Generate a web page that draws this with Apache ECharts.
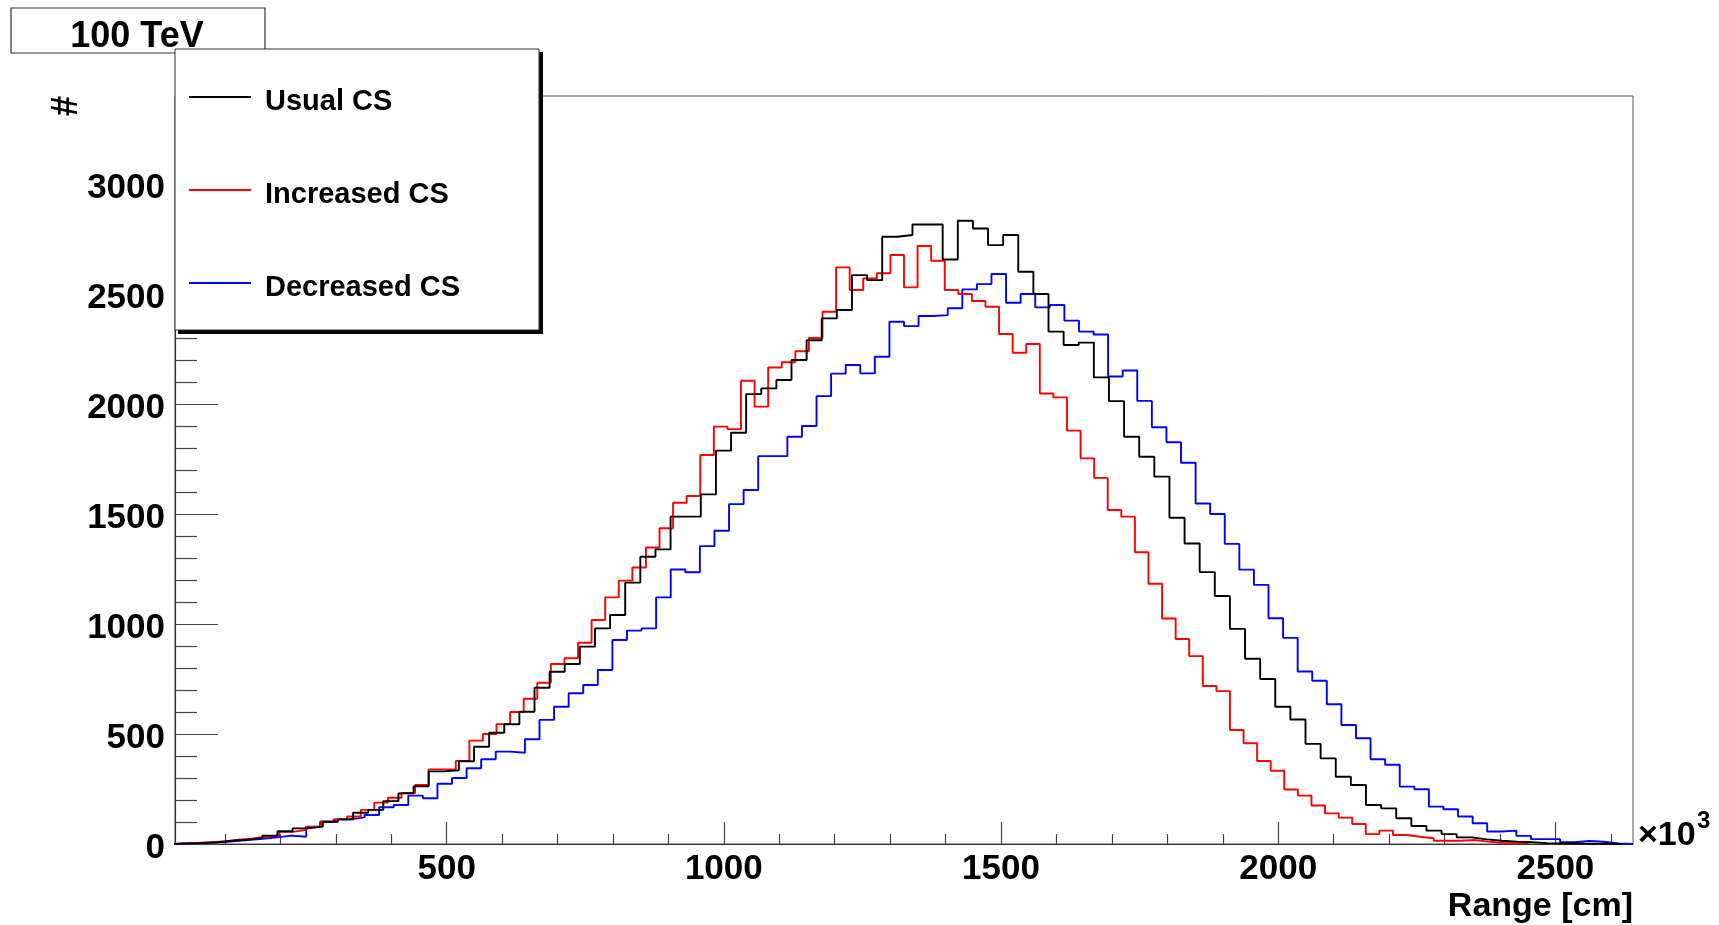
<!DOCTYPE html>
<html>
<head>
<meta charset="utf-8">
<script src="https://cdn.jsdelivr.net/npm/echarts@6/dist/echarts.min.js"></script>
<style>
html,body{margin:0;padding:0;background:#fff;}
#chart{width:1719px;height:925px;}
</style>
</head>
<body>
<div id="chart"></div>
<script>
// Tick labels
const xTicksMajor = [500, 1000, 1500, 2000, 2500];
const xTicksMinor = [100,200,300,400,600,700,800,900,1100,1200,1300,1400,1600,1700,1800,1900,2100,2200,2300,2400,2600];
const yTicksMajor = [0, 500, 1000, 1500, 2000, 2500, 3000];
const yTicksMinor = [100,200,300,400,600,700,800,900,1100,1200,1300,1400,1600,1700,1800,1900,2100,2200,2300,2400,2600,2700,2800,2900,3100,3200,3300];

// Histogram binning (each histogram has its own automatic binning), x in units of 10^3 cm
const usualStart = 4, usualWidth = 27.27;
const increasedStart = 2, increasedWidth = 24.5;
const decreasedStart = 10, decreasedWidth = 26.3;

// Bin contents
const usualCS = [
  3, 5, 8, 15, 20, 28, 38, 58, 71, 79,
  101, 112, 142, 155, 195, 230, 262, 330, 335, 376,
  442, 506, 544, 601, 710, 783, 818, 897, 980, 1041,
  1188, 1306, 1339, 1488, 1488, 1589, 1788, 1869, 2045, 2071,
  2109, 2200, 2290, 2389, 2427, 2586, 2563, 2760, 2768, 2816,
  2816, 2657, 2833, 2798, 2722, 2768, 2601, 2500, 2329, 2268,
  2279, 2121, 2013, 1851, 1760, 1670, 1483, 1366, 1236, 1127,
  978, 842, 750, 624, 566, 455, 389, 306, 268, 177,
  162, 117, 82, 61, 45, 30, 21, 15, 11, 8,
  4, 3, 2, 1, 1, 0
];
const increasedCS = [
  3, 5, 8, 12, 20, 24, 33, 38, 55, 64,
  78, 101, 112, 125, 155, 188, 210, 232, 268, 339,
  340, 378, 470, 500, 545, 600, 660, 733, 818, 844,
  915, 1018, 1121, 1197, 1257, 1348, 1435, 1551, 1582, 1768,
  1897, 1886, 2106, 1988, 2166, 2190, 2240, 2300, 2419, 2621,
  2518, 2571, 2594, 2677, 2530, 2718, 2651, 2518, 2500, 2468,
  2442, 2318, 2233, 2273, 2048, 2030, 1879, 1753, 1664, 1518,
  1488, 1326, 1183, 1025, 932, 854, 718, 695, 518, 458,
  377, 333, 248, 220, 175, 139, 120, 91, 45, 61,
  41, 33, 26, 15, 15, 18, 11, 6, 6, 3
];
const decreasedCS = [
  2, 4, 8, 12, 18, 24, 30, 38, 33, 79,
  101, 112, 121, 132, 167, 177, 220, 208, 274, 300,
  344, 385, 420, 415, 476, 564, 624, 685, 723, 791,
  927, 970, 980, 1121, 1248, 1235, 1354, 1424, 1545, 1609,
  1763, 1763, 1851, 1900, 2036, 2138, 2177, 2139, 2215, 2374,
  2354, 2400, 2404, 2435, 2521, 2545, 2591, 2460, 2500, 2439,
  2450, 2379, 2329, 2316, 2125, 2152, 2014, 1894, 1826, 1733,
  1548, 1500, 1364, 1247, 1178, 1026, 937, 784, 742, 635,
  541, 481, 385, 360, 261, 249, 170, 158, 125, 94,
  57, 61, 37, 22, 22, 8, 14, 10, 2, 0
];

const seriesNames = ['Usual CS', 'Increased CS', 'Decreased CS'];
const seriesColors = ['#000000', '#ff0000', '#0000ff'];

function histPoints(start, width, vals) {
  const pts = [[start, 0]];
  vals.forEach((v, k) => pts.push([start + width * k, v]));
  pts.push([start + width * vals.length, vals[vals.length - 1]]);
  return pts;
}

const FONT = 'Liberation Sans, Arial, Helvetica, sans-serif';
const chart = echarts.init(document.getElementById('chart'), null, {renderer: 'canvas'});

function histSeries(name, color, start, width, vals) {
  return {
    name: name, type: 'line', step: 'end', symbol: 'none', showSymbol: false,
    xAxisIndex: 0, yAxisIndex: 0, clip: true,
    lineStyle: {color: color, width: 1.9},
    data: histPoints(start, width, vals),
    animation: false, z: 3
  };
}

const legendItems = [
  {y: 97, text: seriesNames[0], color: seriesColors[0]},
  {y: 190, text: seriesNames[1], color: seriesColors[1]},
  {y: 283, text: seriesNames[2], color: seriesColors[2]}
];

const graphics = [
  // title box
  {type: 'rect', z: 100, shape: {x: 11, y: 8, width: 254, height: 45}, style: {fill: '#fff', stroke: '#333', lineWidth: 1.2}},
  {type: 'text', z: 101, style: {text: '100 TeV', x: 137, y: 37, textAlign: 'center', textVerticalAlign: 'middle', font: 'bold 36px ' + FONT, fill: '#000'}},
  // legend shadow + box
  {type: 'rect', z: 100, shape: {x: 178, y: 52, width: 365, height: 282}, style: {fill: '#000', stroke: null}},
  {type: 'rect', z: 101, shape: {x: 175, y: 49, width: 364, height: 281}, style: {fill: '#fff', stroke: '#333', lineWidth: 1}},
  // y title
  {type: 'text', z: 101, rotation: -Math.PI / 2, x: 61, y: 106, style: {text: '#', x: 0, y: 0, textAlign: 'center', textVerticalAlign: 'middle', font: 'bold 36px ' + FONT, fill: '#000'}},
  // x title
  {type: 'text', z: 101, style: {text: 'Range [cm]', x: 1633, y: 907, textAlign: 'right', textVerticalAlign: 'middle', font: 'bold 34px ' + FONT, fill: '#000'}},
  // x10^3
  {type: 'text', z: 101, style: {text: '\u00d710', x: 1638, y: 836, textAlign: 'left', textVerticalAlign: 'middle', font: 'bold 34px ' + FONT, fill: '#000'}},
  {type: 'text', z: 101, style: {text: '3', x: 1697, y: 821, textAlign: 'left', textVerticalAlign: 'middle', font: 'bold 24px ' + FONT, fill: '#000'}}
];
legendItems.forEach(it => {
  graphics.push({type: 'line', z: 102, shape: {x1: 189, y1: it.y, x2: 251, y2: it.y}, style: {stroke: it.color, lineWidth: 1.8}});
  graphics.push({type: 'text', z: 102, style: {text: it.text, x: 265, y: it.y + 5, textAlign: 'left', textVerticalAlign: 'middle', font: 'bold 29px ' + FONT, fill: '#000'}});
});

const plainNum = v => String(v);
const yLabelFmt = v => '{a|' + v + '}';

const option = {
  backgroundColor: '#ffffff',
  animation: false,
  grid: {left: 175, right: 86, top: 96, bottom: 81, show: true, borderColor: '#555', borderWidth: 1, backgroundColor: 'transparent'},
  xAxis: [
    {
      type: 'value', min: 10, max: 2640, position: 'bottom',
      axisLine: {show: true, onZero: false, lineStyle: {color: '#333', width: 1.2}},
      axisTick: {show: true, inside: true, length: 22, customValues: xTicksMajor, lineStyle: {color: '#444', width: 1.2}},
      axisLabel: {show: true, customValues: xTicksMajor, formatter: plainNum, margin: 8, color: '#000', fontSize: 35, fontWeight: 'bold', fontFamily: FONT},
      splitLine: {show: false}
    },
    {
      type: 'value', min: 10, max: 2640, position: 'bottom',
      axisLine: {show: false},
      axisTick: {show: true, inside: true, length: 10, customValues: xTicksMinor, lineStyle: {color: '#444', width: 1.2}},
      axisLabel: {show: false},
      splitLine: {show: false}
    }
  ],
  yAxis: [
    {
      type: 'value', min: 0, max: 3400, position: 'left',
      axisLine: {show: true, onZero: false, lineStyle: {color: '#333', width: 1.2}},
      axisTick: {show: true, inside: true, length: 43, customValues: yTicksMajor, lineStyle: {color: '#444', width: 1.2}},
      axisLabel: {
        show: true, customValues: yTicksMajor, formatter: yLabelFmt, margin: 10,
        color: '#000', fontSize: 35, fontWeight: 'bold', fontFamily: FONT,
        rich: {a: {color: '#000', fontSize: 35, fontWeight: 'bold', fontFamily: FONT, padding: [9, 0, 0, 0]}}
      },
      splitLine: {show: false}
    },
    {
      type: 'value', min: 0, max: 3400, position: 'left',
      axisLine: {show: false},
      axisTick: {show: true, inside: true, length: 22, customValues: yTicksMinor, lineStyle: {color: '#444', width: 1.2}},
      axisLabel: {show: false},
      splitLine: {show: false}
    }
  ],
  series: [
    histSeries(seriesNames[2], seriesColors[2], decreasedStart, decreasedWidth, decreasedCS),
    histSeries(seriesNames[1], seriesColors[1], increasedStart, increasedWidth, increasedCS),
    histSeries(seriesNames[0], seriesColors[0], usualStart, usualWidth, usualCS)
  ],
  graphic: graphics
};
chart.setOption(option);
</script>
</body>
</html>
